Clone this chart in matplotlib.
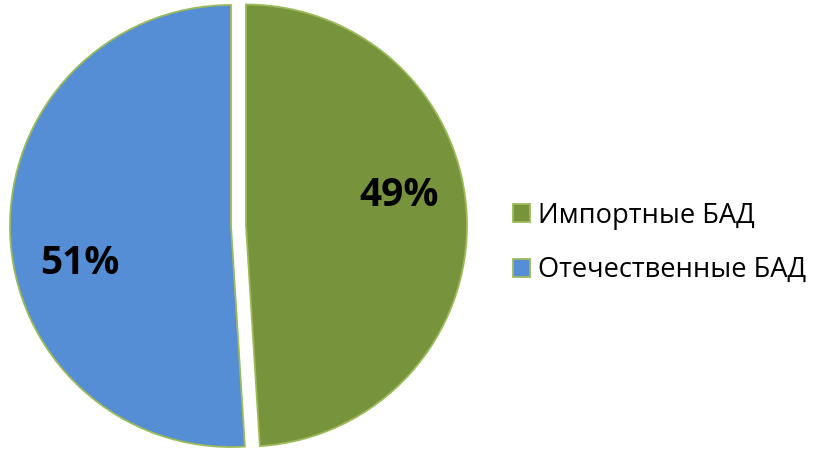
import matplotlib
matplotlib.use("Agg")
import matplotlib.pyplot as plt

plt.rcParams["font.family"] = ["Open Sans", "DejaVu Sans"]

# data
categories = ["Импортные БАД", "Отечественные БАД"]
shares = [49, 51]
pct_labels = ["49%", "51%"]
colors = ["#77933C", "#558ED5"]

fig = plt.figure(figsize=(8.15, 4.55), dpi=100)
ax = fig.add_axes([0, 0, 1, 1])

wedges, _ = ax.pie(
    shares,
    colors=colors,
    startangle=90,
    counterclock=False,
    center=(231, 455 - 226),
    radius=221,
    explode=[15, 0],
    wedgeprops={"edgecolor": "#9BBB59", "linewidth": 1.3},
    frame=True,
)
ax.set_xlim(0, 815)
ax.set_ylim(0, 455)
ax.set_aspect("equal")
ax.axis("off")

# percent labels
ax.text(399, 455 - 195, pct_labels[0], ha="center", va="center",
        fontsize=28, fontweight="bold", color="black")
ax.text(80, 455 - 263, pct_labels[1], ha="center", va="center",
        fontsize=28, fontweight="bold", color="black")

ax.legend(
    wedges, categories,
    loc="center left", bbox_to_anchor=(513 / 815, 1 - 243 / 455),
    frameon=False, fontsize=19.6,
    handlelength=0.62, handleheight=0.62, handletextpad=0.3,
    labelspacing=0.98, borderaxespad=0, borderpad=0,
)

fig.savefig("out.png", dpi=100)
